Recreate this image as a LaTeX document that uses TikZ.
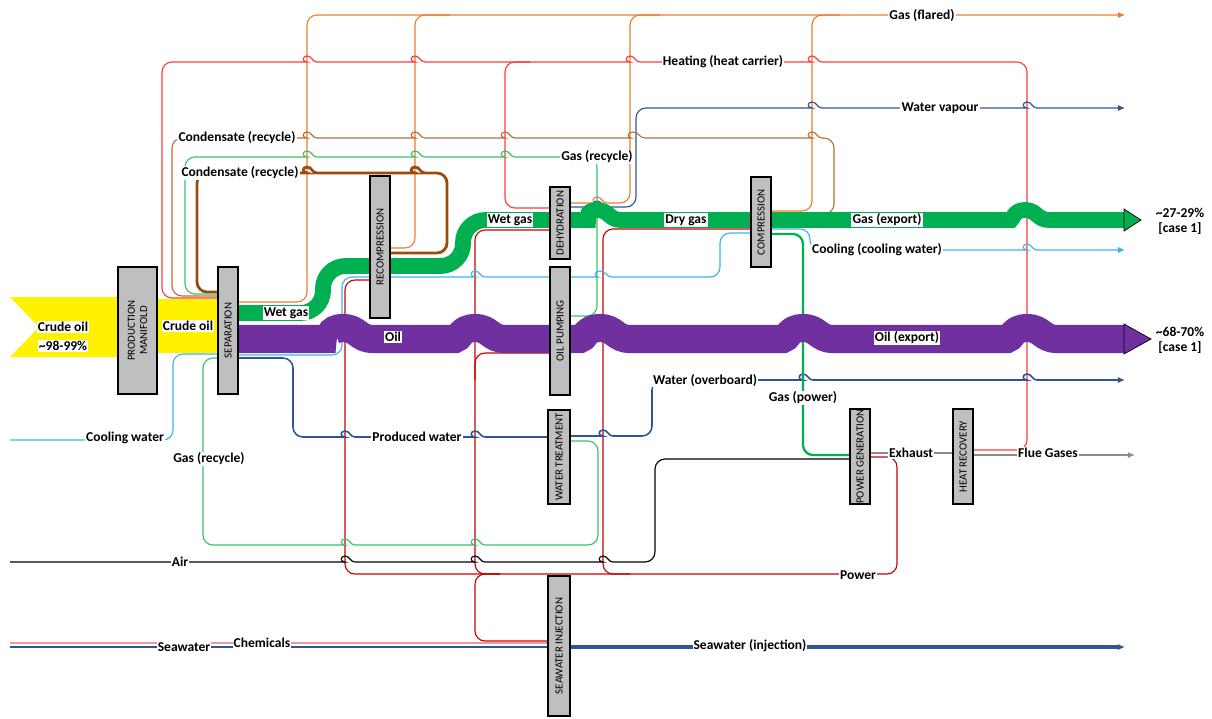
\documentclass[tikz,border=0pt]{standalone}
\usepackage{fontspec}
\setmainfont{Carlito}
\usetikzlibrary{arrows.meta}
\pgfdeclarelayer{bg}
\pgfsetlayers{bg,main}

\definecolor{gasgreen}{HTML}{00B050}
\definecolor{oilpurple}{HTML}{7030A0}
\definecolor{flareorange}{HTML}{ED7D31}
\definecolor{heatred}{HTML}{FF3B3B}
\definecolor{powerred}{HTML}{CC0000}
\definecolor{condbrown}{HTML}{B5703A}
\definecolor{condbrownd}{HTML}{9C4A0E}
\definecolor{recyclegreen}{HTML}{3DBF6A}
\definecolor{coolblue}{HTML}{3BB4EE}
\definecolor{waterblue}{HTML}{2F5597}
\definecolor{boxgray}{HTML}{BFBFBF}
\definecolor{chempink}{HTML}{EE9A9A}
\definecolor{exhaustgray}{HTML}{8C8C8C}

\newcommand{\hop}[4]{-- ({#1-#3},#2) [sharp corners] .. controls ({#1-#3/2},#2) and ({#1-#3/2},{#2-#4}) .. (#1,{#2-#4}) .. controls ({#1+#3/2},{#2-#4}) and ({#1+#3/2},#2) .. ({#1+#3},#2) -- ++(1,0) [rounded corners=0.2cm]}
\newcommand{\jump}[2]{\hop{#1}{#2}{10}{6}}

\begin{document}
\begin{tikzpicture}[x=0.02cm, y=-0.02cm,
	unit/.style={draw=black, line width=1.2pt, fill=boxgray, inner sep=0pt, font=\fontsize{6.2}{6.8}\selectfont},
	flow/.style={line width=0.65pt, rounded corners=0.2cm},
	band/.style={line width=9pt, rounded corners=0.45cm},
	tag/.style={fill=white, inner sep=0.6pt, font=\fontsize{7.7}{8.5}\selectfont\bfseries},
	tip/.style={-{Latex[length=4pt,width=3.5pt]}}]

	\useasboundingbox (0,0) rectangle (1212,718);

	\node[unit, minimum width=0.78cm, minimum height=2.54cm] (manifold) at (137.5,330.5) {\rotatebox{90}{\shortstack{PRODUCTION\\MANIFOLD}}};
	\node[unit, minimum width=0.4cm, minimum height=2.54cm] (sep) at (228,330.5) {\rotatebox{90}{SEPARATION}};
	\node[unit, minimum width=0.4cm, minimum height=2.84cm] (recomp) at (380,247) {\rotatebox{90}{RECOMPRESSION}};
	\node[unit, minimum width=0.4cm, minimum height=1.44cm] (dehyd) at (560,223) {\rotatebox{90}{DEHYDRATION}};
	\node[unit, minimum width=0.4cm, minimum height=2.56cm] (oilpump) at (560,331) {\rotatebox{90}{OIL PUMPING}};
	\node[unit, minimum width=0.44cm, minimum height=1.88cm] (watertr) at (559,457) {\rotatebox{90}{WATER TREATMENT}};
	\node[unit, minimum width=0.4cm, minimum height=1.8cm] (comp) at (761,222) {\rotatebox{90}{COMPRESSION}};
	\node[unit, minimum width=0.4cm, minimum height=1.9cm] (powgen) at (860,456.5) {\rotatebox{90}{POWER GENERATION}};
	\node[unit, minimum width=0.4cm, minimum height=1.9cm] (heatrec) at (963,456.5) {\rotatebox{90}{HEAT RECOVERY}};
	\node[unit, minimum width=0.44cm, minimum height=2.8cm] (swinj) at (559,646) {\rotatebox{90}{SEAWATER INJECTION}};

	\begin{pgfonlayer}{bg}
		% gas to flare
		\draw[flow, flareorange, tip] (sep.east |- 0,302) -- (307,302) -- (307,15) -- (1125,15);
		\draw[flow, flareorange] (recomp.east |- 0,248) -- (415,248) -- (415,15) -- (450,15);
		\draw[flow, flareorange] (dehyd.east |- 0,203) \jump{597}{203} -- (630,203) -- (630,15) -- (660,15);
		\draw[flow, flareorange] (comp.east |- 0,211) -- (812,211) -- (812,15) -- (840,15);

		% heat carrier
		\draw[flow, heatred] (sep.west |- 0,298) -- (162,298) -- (162,62) \jump{307}{62} \jump{415}{62} \jump{630}{62} \jump{812}{62} -- (1027,62) -- (1027,450) -- (heatrec.east |- 0,450);
		\draw[flow, heatred] (530,62) -- (505,62) -- (505,208) -- (dehyd.west |- 0,208);

		% power
		\draw[flow, powerred] (powgen.east |- 0,457) -- (897,457) -- (897,574) -- (345,574) -- (345,280) -- (recomp.west |- 0,280);
		\draw[flow, powerred] (500,574) -- (475,574) -- (475,230) -- (dehyd.west |- 0,230);
		\draw[flow, powerred] (475,380) -- (475,353) -- (oilpump.west |- 0,353);
		\draw[flow, powerred] (500,574) -- (475,574) -- (475,641) -- (swinj.west |- 0,641);
		\draw[flow, powerred] (630,574) -- (603,574) -- (603,229) -- (comp.west |- 0,229);

		\draw[flow, waterblue, tip] (dehyd.east |- 0,207) \jump{597}{207} -- (636,207) -- (636,108) \jump{812}{108} \jump{1027}{108} -- (1125,108);

		% condensate
		\draw[flow, condbrown] (sep.west |- 0,296) -- (172,296) -- (172,138) \jump{307}{138} \jump{415}{138} \jump{505}{138} \hop{633}{138}{12}{6} \jump{812}{138} -- (834,138) -- (834,214) -- (comp.east |- 0,214);
		\draw[flow, condbrownd, line width=1.6pt] (sep.west |- 0,292) -- (197,292) -- (197,173) \jump{307}{173} \jump{415}{173} -- (447,173) -- (447,253) -- (recomp.east |- 0,253);

		% gas recycle
		\draw[flow, recyclegreen] (sep.west |- 0,294) -- (185,294) -- (185,157) \jump{307}{157} \jump{415}{157} \jump{505}{157} -- (597,157) -- (597,316) -- (oilpump.east |- 0,316);
		\draw[flow, recyclegreen] (sep.west |- 0,358) -- (203,358) -- (203,545) \jump{345}{545} \jump{475}{545} -- (598,545) -- (598,441) -- (watertr.east |- 0,441);

		% cooling water
		\draw[flow, coolblue] (10,440) -- (173,440) -- (173,354) -- (sep.west |- 0,354);
		\draw[flow, coolblue] (sep.east |- 0,355) -- (342,355) -- (342,277) -- (recomp.west |- 0,277);
		\draw[flow, coolblue] (recomp.east |- 0,277) \jump{475}{277} -- (oilpump.west |- 0,277);
		\draw[flow, coolblue] (oilpump.east |- 0,277) \hop{600}{277}{12}{6} -- (720,277) -- (720,233) -- (comp.west |- 0,233);
		\draw[flow, coolblue, tip] (comp.east |- 0,229) -- (810,229) -- (810,250) \jump{1027}{250} -- (1125,250);

		% water
		\draw[flow, waterblue, line width=0.9pt] (sep.east |- 0,358) -- (293,358) -- (293,437) \jump{345}{437} \jump{475}{437} -- (watertr.west |- 0,437);
		\draw[flow, waterblue, line width=0.9pt, tip] (watertr.east |- 0,436) \jump{603}{436} -- (652,436) -- (652,380) \jump{803}{380} \jump{1027}{380} -- (1125,380);

		\draw[flow, gasgreen, line width=1.3pt] (comp.east |- 0,234) -- (803,234) -- (803,455) -- (powgen.west |- 0,455);

		\draw[flow, black] (10,562) \jump{345}{562} \jump{475}{562} \jump{603}{562} -- (655,562) -- (655,459) -- (powgen.west |- 0,459);

		\draw[flow, exhaustgray, line width=1pt] (powgen.east |- 0,453) -- (heatrec.west |- 0,453);
		\draw[flow, exhaustgray, line width=1pt, tip] (heatrec.east |- 0,455) -- (1135,455);

		% seawater
		\draw[flow, chempink, line width=0.9pt] (10,643) -- (swinj.west |- 0,643);
		\draw[flow, waterblue, line width=1.1pt] (10,647) -- (swinj.west |- 0,647);
		\draw[waterblue, line width=2pt, tip] (swinj.east |- 0,647) -- (1125,647);

		% crude, gas and oil
		\fill[yellow] (10,297) -- (manifold.west |- 0,297) -- (manifold.west |- 0,357) -- (10,357) -- (39,327) -- cycle;
		\fill[yellow] (manifold.east |- 0,299) rectangle (sep.west |- 0,353);
		\draw[band, gasgreen] (sep.east |- 0,313) -- (323,313) -- (323,266) -- (463,266) -- (463,220) -- (560,220) \hop{597}{220}{24}{10} \hop{1025}{220}{24}{10} -- (1124,220);
		\draw[fill=gasgreen, draw=black, line width=0.4pt] (1124,209) -- (1141,220) -- (1124,231) -- cycle;
		\draw[band, oilpurple, line width=16pt] (sep.east |- 0,339) \hop{343}{339}{30}{11} \hop{475}{339}{30}{11} \hop{600}{339}{30}{11} \hop{803}{339}{30}{11} \hop{1027}{339}{30}{11} -- (1124,339);
		\draw[fill=oilpurple, draw=black, line width=0.4pt] (1124,324) -- (1151,339) -- (1124,354) -- cycle;
	\end{pgfonlayer}

	\node[tag] (lcrude) at (63,327) {Crude oil};
	\node[tag] (lcrudepct) at (63,346) {\textasciitilde98-99\%};
	\node[tag] (lcrude2) at (188,326) {Crude oil};
	\node[tag] (lwet) at (286,313) {Wet gas};
	\node[tag] (loil) at (393,337) {Oil};
	\node[tag] (lwet2) at (510,220) {Wet gas};
	\node[tag] (ldry) at (686,220) {Dry gas};
	\node[tag] (lgasexp) at (887,220) {Gas (export)};
	\node[tag] (loilexp) at (907,338) {Oil (export)};
	\node[tag] (lflare) at (922,15) {Gas (flared)};
	\node[tag] (lheat) at (723,62) {Heating (heat carrier)};
	\node[tag] (lvapour) at (940,108) {Water vapour};
	\node[tag] (lcond) at (237,138) {Condensate (recycle)};
	\node[tag] (lcond2) at (240,173) {Condensate (recycle)};
	\node[tag] (lrec) at (597,157) {Gas (recycle)};
	\node[tag] (lcool) at (877,250) {Cooling (cooling water)};
	\node[tag] (lover) at (705,380) {Water (overboard)};
	\node[tag] (lgaspow) at (803,398) {Gas (power)};
	\node[tag] (lcoolin) at (125,438) {Cooling water};
	\node[tag] (lprod) at (417,437) {Produced water};
	\node[tag] (lrec2) at (209,459) {Gas (recycle)};
	\node[tag] (lexh) at (911,453) {Exhaust};
	\node[tag] (lflue) at (1048,453) {Flue Gases};
	\node[tag] (lair) at (180,562) {Air};
	\node[tag] (lpow) at (858,575) {Power};
	\node[tag] (lsea) at (184,647) {Seawater};
	\node[tag] (lchem) at (262,643) {Chemicals};
	\node[tag] (lseainj) at (750,646) {Seawater (injection)};
	\node[tag, fill=none, align=center] (lgaspct) at (1180,221) {\textasciitilde27-29\%\\{}[case 1]};
	\node[tag, fill=none, align=center] (loilpct) at (1180,340) {\textasciitilde68-70\%\\{}[case 1]};
\end{tikzpicture}
\end{document}
